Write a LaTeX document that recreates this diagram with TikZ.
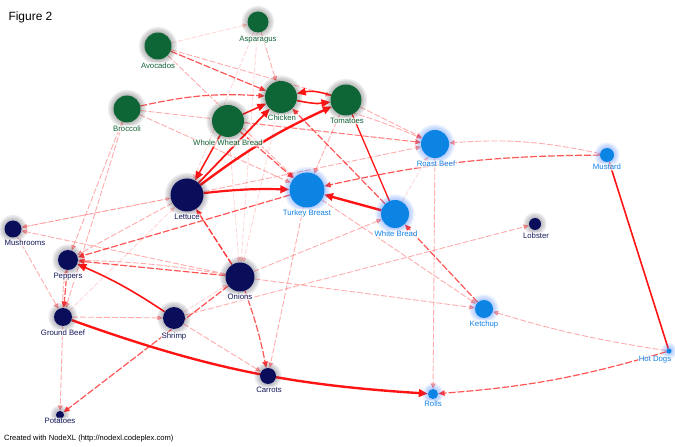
\documentclass[tikz,border=0pt]{standalone}
\usepackage{fontspec}
\setmainfont{Liberation Sans}
\usetikzlibrary{arrows.meta,calc}
\definecolor{fillG}{RGB}{14,102,54}
\definecolor{glowG}{RGB}{60,60,60}
\definecolor{textG}{RGB}{20,100,55}
\definecolor{fillN}{RGB}{10,14,90}
\definecolor{glowN}{RGB}{60,60,80}
\definecolor{textN}{RGB}{20,25,90}
\definecolor{fillB}{RGB}{12,132,228}
\definecolor{glowB}{RGB}{40,110,255}
\definecolor{textB}{RGB}{20,130,230}
\definecolor{ered}{RGB}{255,20,20}
\pgfdeclarelayer{bg}\pgfdeclarelayer{edges}\pgfdeclarelayer{glow}
\pgfsetlayers{bg,edges,glow,main}
\tikzset{
 lbl/.style={font=\fontsize{7.8}{8}\selectfont, inner sep=0.7pt, fill=white, fill opacity=0.75, text opacity=1, rounded corners=1pt},
 strong/.style={draw=ered, line width=2pt, -{Triangle[length=9pt,width=7.5pt]}},
 mid/.style={draw=ered, opacity=0.72, line width=1.2pt, dash pattern=on 7pt off 2pt, -{Triangle[length=6.5pt,width=5.5pt]}},
 light/.style={draw=ered, opacity=0.35, line width=0.9pt, dash pattern=on 6pt off 2pt, -{Triangle[length=5.5pt,width=5pt]}},
 faint/.style={draw=ered, opacity=0.18, line width=0.8pt, dash pattern=on 5pt off 2pt, -{Triangle[length=5pt,width=4.5pt]}},
}
\newcommand\fnode[8]{%
  \begin{pgfonlayer}{glow}
   \foreach \k in {1,...,4}{\fill[glow#5, opacity=0.09] (#2,#3) circle[radius=#4+\k*1.4];}
  \end{pgfonlayer}
  \node[circle, fill=fill#5, inner sep=0pt, minimum size=#4*2bp] (#1) at (#2,#3) {};
  \node[lbl, text=text#5] (#1-lbl) at (#7,#8) {#6};
}
\begin{document}
\begin{tikzpicture}[x=1bp,y=-1bp]
\begin{pgfonlayer}{bg}
\fill[white] (0,0) rectangle (675,447);
\end{pgfonlayer}
\useasboundingbox (0,0) rectangle (675,447);
\node[anchor=west, font=\fontsize{12}{13}\selectfont] (title) at (5,17) {Figure 2};
\node[anchor=west, font=\fontsize{7.6}{8}\selectfont, inner sep=0pt] (credit) at (4,439) {Created with NodeXL (http://nodexl.codeplex.com)};
% nodes
\fnode{asp}{258}{22}{10.5}{G}{Asparagus}{258}{40}
\fnode{avo}{158}{46}{13.5}{G}{Avocados}{158}{66}
\fnode{bro}{127}{109}{13.5}{G}{Broccoli}{127}{129}
\fnode{wwb}{228}{121}{16}{G}{Whole Wheat Bread}{228}{143}
\fnode{chi}{281}{97}{16}{G}{Chicken}{282}{118}
\fnode{tom}{346}{100}{15.5}{G}{Tomatoes}{347}{121}
\fnode{rb}{435}{144}{14}{B}{Roast Beef}{436}{164}
\fnode{mus}{607}{155}{7}{B}{Mustard}{607}{167}
\fnode{let}{187}{195}{16.5}{N}{Lettuce}{187}{217}
\fnode{tb}{307}{190}{17.5}{B}{Turkey Breast}{307}{213}
\fnode{wb}{395}{214}{14}{B}{White Bread}{396}{234}
\fnode{lob}{535}{224}{6}{N}{Lobster}{536}{236}
\fnode{mush}{13}{229}{8.5}{N}{Mushrooms}{25}{243}
\fnode{pep}{68}{260}{10}{N}{Peppers}{68}{277}
\fnode{oni}{240}{277}{14.5}{N}{Onions}{240}{297}
\fnode{gb}{63}{317}{9}{N}{Ground Beef}{63}{333}
\fnode{shr}{174}{318}{11}{N}{Shrimp}{174}{336}
\fnode{ket}{484}{309}{9}{B}{Ketchup}{484}{324}
\fnode{car}{268}{376}{8}{N}{Carrots}{269}{390}
\fnode{hd}{669}{351}{2.5}{B}{Hot Dogs}{655}{360}
\fnode{rol}{433}{394}{5}{B}{Rolls}{433}{404}
\fnode{pot}{60}{415}{4}{N}{Potatoes}{60}{421}
% edges
\begin{pgfonlayer}{edges}
% faint
\draw[faint] (avo) -- (asp);
\draw[faint] (asp) -- (let);
\draw[faint] (asp) -- (oni);
\draw[faint] (wwb) -- (oni);
\draw[faint] (chi) -- (oni);
\draw[faint] (gb) -- (let);
\draw[faint] (shr) -- (oni);
\draw[faint] (mush) -- (let);
\draw[faint] (wb) -- (rb);
% light
\draw[light] (asp) -- (chi);
\draw[light] (avo) -- (tom);
\draw[light] (avo) -- (tb);
\draw[light] (bro) -- (tb);
\draw[light] (bro) -- (rb);
\draw[light] (bro) -- (gb);
\draw[light] (bro) -- (pep);
\draw[light] (tom) -- (tb);
\draw[light] (chi) to[bend left=6] (rb);
\draw[light] (tom) -- (rb);
\draw[light] (wwb) -- (rb);
\draw[light] (let) -- (rb);
\draw[light] (mus) to[bend right=8] (rb);
\draw[light] (rb) -- (rol);
\draw[light] (oni) -- (mush);
\draw[light] (let) -- (mush);
\draw[light] (let) -- (pep);
\draw[light] (gb) -- (pot);
\draw[light] (gb) -- (shr);
\draw[light] (shr) -- (car);
\draw[light] (tb) -- (car);
\draw[light] (oni) -- (wb);
\draw[light] (shr) -- (lob);
\draw[light] (oni) -- (ket);
\draw[light] (tb) -- (ket);
\draw[light] (mush) -- (gb);
\draw[light] (gb) to[bend left=6] (pep);
\draw[light] (oni) to[bend right=4] (pep);
\draw[light] (hd) to[bend left=4] (ket);
% mid
\draw[mid] (bro) to[bend left=8] (chi);
\draw[mid] (avo) -- (chi);
\draw[mid] (wwb) -- (tb);
\draw[mid] (wb) -- (chi);
\draw[mid] (mus) to[bend right=6] (tb);
\draw[mid] (hd) to[bend left=6] (rol);
\draw[mid] (tb) -- (pep);
\draw[mid] (oni) -- (pep);
\draw[mid] (oni) to[bend left=4] (car);
\draw[mid] (oni) -- (pot);
\draw[mid] (ket) -- (wb);
\draw[mid] (pep) -- (gb);
\draw[mid, opacity=0.85, line width=1.4pt] (oni) -- (let);
% strong
\draw[strong, line width=2.4pt] (let) to[bend left=6] (tom);
\draw[strong, line width=1.8pt] (let) -- (chi);
\draw[strong, line width=1.5pt] (wwb) -- (let);
\draw[strong, line width=2.2pt] (let) to[bend left=4] (tb);
\draw[strong, line width=1.5pt] (wwb) -- (chi);
\draw[strong, line width=1.5pt] (tom) to[bend right=15] (chi);
\draw[strong, line width=1.5pt] (chi) to[bend right=10] (tom);
\draw[strong, line width=2.4pt] (wb) -- (tb);
\draw[strong, line width=1.3pt, -] (wb) -- (tom);
\draw[strong, line width=1.6pt, -{Triangle[length=5pt,width=4.5pt]}] (hd) -- (mus);
\draw[strong, line width=2.4pt] (gb) to[bend right=8] (rol);
\draw[strong, line width=1.6pt] (shr) to[bend right=5] (pep);
\end{pgfonlayer}
\end{tikzpicture}
\end{document}
